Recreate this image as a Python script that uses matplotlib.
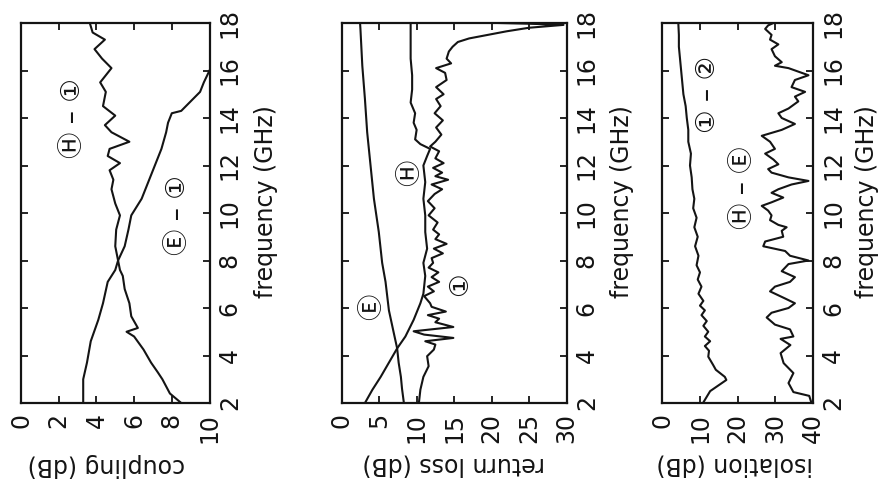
import numpy as np
import matplotlib
matplotlib.use('Agg')
import matplotlib.pyplot as plt

plt.rcParams.update({'font.family': 'DejaVu Sans', 'font.size': 17})
CIRC = ['DejaVu Sans', 'Noto Sans CJK JP']   # circled port symbols
INK = '#141414'

freq_ticks = [2, 4, 6, 8, 10, 12, 14, 16, 18]

# --- coupling (dB) -------------------------------------------------------
coup_h1_f = [2.0, 3.0, 3.7, 4.6, 5.5, 6.2, 7.1, 7.6, 8.0, 8.6, 9.3, 9.9, 10.4, 11.0, 11.4,
             11.8, 12.1, 12.4, 12.7, 13.0, 13.4, 13.7, 14.1, 14.5, 15.1, 15.5, 16.1, 16.5,
             16.9, 17.3, 17.6, 18.0]
coup_h1_db = [3.3, 3.3, 3.5, 3.7, 4.1, 4.35, 4.6, 5.0, 5.15, 5.0, 5.05, 5.25, 5.0, 4.8, 4.9,
              4.7, 5.25, 4.6, 4.7, 5.75, 4.8, 4.45, 5.0, 4.35, 4.5, 4.2, 4.8, 4.3,
              3.9, 4.45, 3.8, 3.65]

coup_e1_f = [2.0, 2.4, 3.0, 3.3, 3.7, 4.25, 4.8, 5.0, 5.16, 5.65, 6.2, 6.8, 7.35, 7.6, 8.0,
             8.6, 9.3, 9.9, 10.6, 11.3, 12.0, 12.7, 13.4, 13.8, 14.2, 14.3, 14.7, 15.1,
             15.5, 16.0]
coup_e1_db = [8.5, 7.9, 7.5, 7.25, 6.9, 6.5, 6.0, 5.6, 6.2, 5.85, 5.75, 5.5, 5.4, 5.25, 5.15,
              5.5, 5.7, 5.85, 6.4, 6.75, 7.1, 7.45, 7.7, 7.8, 8.0, 8.5, 9.0, 9.5,
              9.7, 10.0]

# --- return loss (dB) ----------------------------------------------------
rl_e_f = [2.0, 2.6, 3.1, 3.7, 4.3, 4.95, 5.9, 7.1, 7.9, 9.2, 10.6, 12.0, 13.4, 14.8, 16.2,
          17.75, 18.0]
rl_e_db = [8.3, 8.05, 7.9, 7.6, 7.4, 6.95, 6.3, 5.85, 5.4, 4.95, 4.3, 3.85, 3.4, 3.1, 2.75,
           2.5, 2.45]

rl_h_f = [2.0, 2.56, 3.1, 3.7, 4.3, 4.8, 5.5, 6.2, 6.6, 7.35, 7.9, 8.5, 9.2, 9.9, 10.6,
          11.3, 12.0, 12.4, 12.7, 12.9, 13.1, 13.5, 13.8, 14.2, 14.65, 15.2, 15.8, 16.5,
          17.2, 18.0]
rl_h_db = [3.1, 4.1, 5.2, 6.3, 7.4, 8.5, 9.6, 10.5, 10.9, 11.15, 10.9, 11.4, 11.15, 11.15, 10.9,
           11.15, 10.9, 11.4, 11.8, 10.5, 9.8, 10.0, 9.6, 9.8, 9.2, 9.4, 9.4, 9.2,
           9.2, 9.2]

rl_1_f = [2.0, 2.56, 3.1, 3.55, 3.97, 4.25, 4.46, 4.6, 4.74, 4.88,
          5.02, 5.2, 5.4, 5.55, 5.7, 5.85, 6.05, 6.2, 6.5, 6.7,
          6.9, 7.1, 7.3, 7.5, 7.7, 7.9, 8.1, 8.3, 8.5, 8.7,
          8.9, 9.1, 9.3, 9.6, 9.9, 10.2, 10.5, 10.8, 11.0, 11.2,
          11.4, 11.55, 11.7, 11.9, 12.1, 12.3, 12.6, 12.8, 13.0, 13.3,
          13.6, 13.9, 14.2, 14.5, 14.8, 15.0, 15.3, 15.6, 15.9, 16.1,
          16.3, 16.5, 16.8, 17.0, 17.2, 17.35, 17.5, 17.65, 17.8, 17.92,
          17.97, 18.0]
rl_1_db = [10.3, 10.5, 10.9, 11.6, 11.4, 12.3, 12.5, 11.15, 14.9, 11.0,
           9.6, 14.9, 12.5, 13.0, 11.5, 13.9, 12.0, 11.8, 11.0, 12.3,
           11.5, 13.0, 12.0, 12.9, 11.6, 12.2, 12.0, 13.5, 12.3, 14.0,
           12.5, 13.0, 12.2, 12.8, 11.6, 12.4, 11.5, 12.4, 13.4, 12.0,
           14.2, 12.5, 13.4, 12.2, 13.6, 12.5, 13.0, 11.8, 12.5, 13.3,
           12.6, 13.5, 12.4, 13.2, 12.6, 13.6, 12.6, 14.0, 13.8, 12.6,
           14.6, 14.0, 14.3, 14.8, 15.5, 17.0, 19.5, 22.0, 25.0, 29.6,
           25.0, 21.0]

# --- isolation (dB) ------------------------------------------------------
iso_12_f = [2.0, 2.5, 2.97, 3.1, 3.4, 3.6, 3.95, 4.2, 4.4, 4.6, 4.8, 5.0, 5.25, 5.45, 5.7,
            5.9, 6.1, 6.3, 6.6, 6.9, 7.2, 7.5, 7.8, 8.2, 8.6, 9.0, 9.4, 9.8, 10.2, 10.6,
            11.0, 11.5, 12.0, 12.5, 13.0, 13.5, 14.0, 14.5, 15.0, 15.5, 16.0, 16.5, 17.0,
            17.5, 18.0]
iso_12_db = [10.8, 12.7, 17.0, 16.6, 14.2, 13.5, 12.2, 12.4, 11.3, 12.7, 11.3, 12.2, 10.9, 11.8, 10.4,
             11.3, 10.0, 10.9, 9.6, 10.4, 9.4, 10.0, 9.1, 9.6, 8.7, 9.4, 8.5, 9.1, 8.2, 8.5,
             8.0, 7.8, 7.35, 7.6, 6.9, 6.9, 6.5, 6.2, 5.6, 5.3, 5.0, 4.7, 4.4,
             4.4, 4.25]

iso_he_f = [2.0, 2.3, 2.46, 2.84, 3.26, 3.68, 4.1, 4.44, 4.7, 4.8,
            5.1, 5.3, 5.6, 5.8, 6.0, 6.2, 6.4, 6.7, 6.9, 7.1,
            7.3, 7.55, 7.85, 8.0, 8.2, 8.4, 8.6, 8.8, 9.0, 9.25,
            9.4, 9.5, 9.7, 9.9, 10.1, 10.3, 10.45, 10.65, 10.85, 11.0,
            11.2, 11.35, 11.5, 11.7, 11.85, 12.05, 12.25, 12.5, 12.7, 13.0,
            13.25, 13.5, 13.75, 14.0, 14.2, 14.4, 14.7, 14.9, 15.1, 15.3,
            15.6, 15.8, 16.1, 16.2, 16.35, 16.6, 16.9, 17.1, 17.3, 17.5,
            17.75, 17.9, 18.0]
iso_he_db = [39.6, 39.0, 34.8, 33.5, 34.8, 32.2, 31.4, 34.0, 31.4, 34.8,
             33.9, 29.9, 27.7, 29.0, 33.5, 35.2, 32.6, 28.6, 29.9, 33.9,
             35.2, 31.7, 33.5, 38.8, 33.9, 32.6, 26.8, 27.3, 32.1, 31.7,
             33.0, 30.8, 28.6, 29.0, 28.1, 26.4, 29.0, 32.1, 29.0, 30.8,
             34.3, 38.8, 33.5, 29.0, 28.1, 30.8, 29.5, 27.3, 29.9, 28.6,
             26.4, 31.7, 35.2, 31.7, 30.8, 33.5, 36.1, 35.2, 37.9, 34.3,
             35.2, 38.8, 33.5, 29.9, 31.7, 29.9, 29.0, 30.8, 28.6, 29.0,
             27.3, 28.1, 29.5]

# layout in pixels of the 882 x 482 canvas (frequency runs upward, dB to the right)
W, H = 882, 482
TOP, BOT = 23, 403

fig = plt.figure(figsize=(W / 100, H / 100), dpi=100)


def panel(left, right, xmax, xstep, xlabel, xlab_pos, flab_x):
    ax = fig.add_axes([left / W, (H - BOT) / H, (right - left) / W, (BOT - TOP) / H])
    ax.set_xlim(0, xmax)
    ax.set_ylim(2, 18)
    ax.set_xticks(np.arange(0, xmax + 1, xstep))
    ax.set_yticks(freq_ticks)
    ax.tick_params(direction='in', length=5, width=1.3, color=INK, labelcolor=INK,
                   top=True, bottom=True, left=True, right=True,
                   labelleft=False, labelright=True)
    ax.tick_params(axis='x', labelrotation=90, pad=7)
    ax.tick_params(axis='y', labelrotation=90, pad=6)
    plt.setp(ax.get_yticklabels(), va='center', ha='left')
    plt.setp(ax.get_xticklabels(), va='top', ha='center')
    for s in ax.spines.values():
        s.set_linewidth(1.6)
        s.set_color(INK)
    ax.set_xlabel(xlabel, rotation=180, ha='center', va='center', color=INK)
    ax.xaxis.set_label_coords(xlab_pos, -0.163)
    ax.yaxis.set_label_position('right')
    ax.set_ylabel('frequency (GHz)', rotation=90, ha='center', va='center', color=INK)
    ax.yaxis.set_label_coords(flab_x, 0.53)
    return ax


def label(ax, x, y, s):
    ax.text(x, y, s, rotation=90, ha='center', va='center', fontsize=19,
            family=CIRC, color=INK)


line = dict(color=INK, lw=1.5, solid_joinstyle='round')

ax1 = panel(21, 209.5, 10, 2, 'coupling (dB)', 0.45, 1.30)
ax1.plot(coup_h1_db, coup_h1_f, **line)
ax1.plot(coup_e1_db, coup_e1_f, **line)
label(ax1, 2.76, 14.0, 'Ⓗ – ①')
label(ax1, 8.33, 9.9, 'Ⓔ – ①')

ax2 = panel(341.7, 566.5, 30, 5, 'return loss (dB)', 0.497, 1.247)
ax2.plot(rl_e_db, rl_e_f, **line)
ax2.plot(rl_h_db, rl_h_f, **line)
ax2.plot(rl_1_db, rl_1_f, **line)
label(ax2, 4.0, 6.05, 'Ⓔ')
label(ax2, 9.1, 11.7, 'Ⓗ')
label(ax2, 15.8, 7.0, '①')

ax3 = panel(662.3, 813, 40, 10, 'isolation (dB)', 0.48, 1.358)
ax3.plot(iso_12_db, iso_12_f, **line)
ax3.plot(iso_he_db, iso_he_f, **line)
label(ax3, 12.1, 15.0, '① – ②')
label(ax3, 21.4, 11.05, 'Ⓗ – Ⓔ')

fig.savefig('out.png', dpi=100)
